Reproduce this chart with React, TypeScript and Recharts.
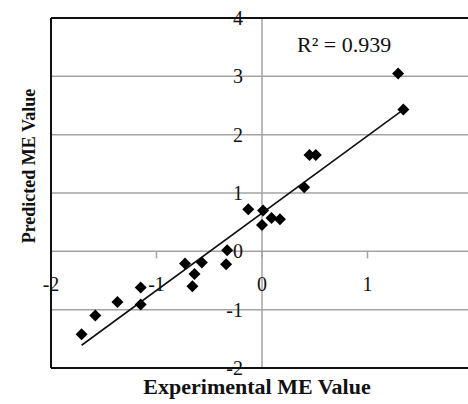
import React from "react";
import { ScatterChart, Scatter, XAxis, YAxis, ReferenceLine, ReferenceDot } from "recharts";

const experimental = [-1.71, -1.58, -1.37, -1.15, -1.15, -0.73, -0.64, -0.66, -0.57, -0.33, -0.34, -0.13, 0.01, 0.0, 0.09, 0.17, 0.4, 0.45, 0.51, 1.29, 1.34];
const predicted = [-1.42, -1.1, -0.87, -0.62, -0.91, -0.21, -0.39, -0.6, -0.19, 0.02, -0.22, 0.72, 0.7, 0.45, 0.57, 0.55, 1.1, 1.65, 1.65, 3.05, 2.43];

const trendX = [-1.71, 1.34];
const trendY = [-1.61, 2.43];

const xTicks = [-2, -1, 0, 1, 2];
const yTicks = [-2, -1, 0, 1, 2, 3, 4];
const r2Text = "R² = 0.939";

const points = experimental.map((x, i) => ({ x, y: predicted[i] }));
const trend = trendX.map((x, i) => ({ x, y: trendY[i] }));

const serif = '"Liberation Serif", "Times New Roman", serif';
const gridColor = "#a3a3a3";

function Diamond(props: any) {
  const { cx, cy } = props;
  const s = 6;
  return (
    <polygon
      points={`${cx},${cy - s} ${cx + s},${cy} ${cx},${cy + s} ${cx - s},${cy}`}
      fill="#000"
    />
  );
}

export default function App() {
  return (
    <div
      style={{
        position: "fixed",
        left: 0,
        top: 0,
        width: 468,
        height: 404,
        overflow: "hidden",
        background: "#fff",
        fontFamily: serif,
      }}
    >
      <ScatterChart width={480} height={404} margin={{ top: 18, right: 7, bottom: 36, left: 51 }}>
        <XAxis type="number" dataKey="x" domain={[-2, 2]} ticks={xTicks} hide />
        <YAxis type="number" dataKey="y" domain={[-2, 4]} ticks={yTicks} hide />

        {yTicks.map((t) => (
          <ReferenceLine key={"g" + t} y={t} stroke={gridColor} strokeWidth={1.5} />
        ))}
        <ReferenceLine x={0} stroke={gridColor} strokeWidth={1.5} />
        {xTicks.map((t) => (
          <ReferenceLine
            key={"t" + t}
            segment={[{ x: t, y: 0 }, { x: t, y: -0.12 }]}
            stroke={gridColor}
            strokeWidth={1.5}
          />
        ))}

        {/* plot border */}
        <ReferenceLine y={4} stroke="#111" strokeWidth={2} />
        <ReferenceLine y={-2} stroke="#111" strokeWidth={2} />
        <ReferenceLine x={-2} stroke="#111" strokeWidth={2} />
        <ReferenceLine x={2} stroke="#111" strokeWidth={2} />

        {xTicks.map((t) => (
          <ReferenceDot
            key={"xl" + t}
            x={t}
            y={0}
            r={0}
            fill="none"
            stroke="none"
            ifOverflow="visible"
            label={{ value: String(t), position: "bottom", offset: 25, fontSize: 20, fill: "#111", fontFamily: serif }}
          />
        ))}
        {yTicks.map((t) => (
          <ReferenceDot
            key={"yl" + t}
            x={0}
            y={t}
            r={0}
            fill="none"
            stroke="none"
            ifOverflow="visible"
            label={{ value: String(t), position: "left", offset: 19, fontSize: 20, fill: "#111", fontFamily: serif }}
          />
        ))}

        <Scatter
          data={trend}
          line={{ stroke: "#111", strokeWidth: 1.6 }}
          shape={() => <g />}
          isAnimationActive={false}
        />
        <Scatter data={points} shape={<Diamond />} isAnimationActive={false} />
      </ScatterChart>

      <div
        style={{
          position: "absolute",
          left: 297,
          top: 32,
          fontSize: 22,
          color: "#111",
          whiteSpace: "nowrap",
          lineHeight: "26px",
        }}
      >
        {r2Text}
      </div>
      <div
        style={{
          position: "absolute",
          left: 257,
          top: 387,
          transform: "translate(-50%, -50%)",
          fontSize: 22,
          fontWeight: "bold",
          color: "#111",
          whiteSpace: "nowrap",
        }}
      >
        Experimental ME Value
      </div>
      <div
        style={{
          position: "absolute",
          left: 29,
          top: 166,
          transform: "translate(-50%, -50%) rotate(-90deg)",
          fontSize: 18,
          fontWeight: "bold",
          color: "#111",
          whiteSpace: "nowrap",
        }}
      >
        Predicted ME Value
      </div>
    </div>
  );
}
